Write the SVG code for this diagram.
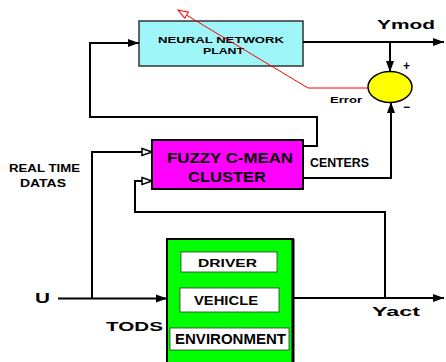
<svg xmlns="http://www.w3.org/2000/svg" width="446" height="362" viewBox="0 0 446 362">
<style>
  .t{font-family:"Liberation Sans",Arial,sans-serif;font-weight:bold;fill:#000}
  .w{fill:none;stroke:#000;stroke-width:2}
</style>
<defs>
  <marker id="af" markerUnits="userSpaceOnUse" markerWidth="12" markerHeight="10" refX="11" refY="5" orient="auto">
    <path d="M0,1 L11,5 L0,9 Z" fill="#000"/>
  </marker>
  <marker id="ao" markerUnits="userSpaceOnUse" markerWidth="12" markerHeight="10" refX="11" refY="5" orient="auto">
    <path d="M1,1.5 L11,5 L1,8.5 Z" fill="#fff" stroke="#000" stroke-width="1.5"/>
  </marker>
  <marker id="ar" markerUnits="userSpaceOnUse" markerWidth="12" markerHeight="10" refX="11" refY="5" orient="auto">
    <path d="M1,1.5 L11,5 L1,8.5 Z" fill="#fff" stroke="#f00" stroke-width="1"/>
  </marker>
</defs>
<rect width="446" height="362" fill="#fff"/>
<g id="nn-plant">
  <rect x="139" y="21" width="164" height="45" fill="#9ef6f8" stroke="#333" stroke-width="1.5"/>
  <text class="t" x="158" y="43" font-size="9.5" textLength="126" lengthAdjust="spacingAndGlyphs">NEURAL NETWORK</text>
  <text class="t" x="203" y="54" font-size="9.5" textLength="41" lengthAdjust="spacingAndGlyphs">PLANT</text>
</g>
<g id="sum">
  <ellipse cx="390" cy="87" rx="22" ry="15.5" fill="#ffff00" stroke="#000" stroke-width="1.5"/>
  <text class="t" x="403" y="70" font-size="12">+</text>
  <text class="t" x="403" y="111" font-size="12">−</text>
</g>
<g id="fcm">
  <rect x="152" y="140" width="151" height="49" fill="#ff00ff" stroke="#000" stroke-width="2"/>
  <text class="t" x="167" y="163" font-size="14" textLength="126" lengthAdjust="spacingAndGlyphs">FUZZY C-MEAN</text>
  <text class="t" x="188" y="182" font-size="14" textLength="78" lengthAdjust="spacingAndGlyphs">CLUSTER</text>
</g>
<g id="tods">
  <rect x="167" y="239" width="126" height="126" fill="#00ff00" stroke="#000" stroke-width="2"/>
  <line x1="293" y1="239" x2="293" y2="362" stroke="#000" stroke-width="3"/>
  <rect x="181" y="252" width="96" height="20" fill="#fff" stroke="#333" stroke-width="0.8"/>
  <text class="t" x="198" y="267" font-size="10" textLength="59" lengthAdjust="spacingAndGlyphs">DRIVER</text>
  <rect x="180" y="288" width="99" height="24" fill="#fff" stroke="#333" stroke-width="0.8"/>
  <text class="t" x="194" y="305" font-size="13" textLength="64" lengthAdjust="spacingAndGlyphs">VEHICLE</text>
  <rect x="170" y="328" width="119" height="22" fill="#fff" stroke="#333" stroke-width="0.8"/>
  <text class="t" x="175" y="344" font-size="14" textLength="111" lengthAdjust="spacingAndGlyphs">ENVIRONMENT</text>
</g>
<g id="labels">
  <text class="t" x="377" y="29" font-size="13" textLength="58" lengthAdjust="spacingAndGlyphs">Ymod</text>
  <text class="t" x="330" y="103" font-size="9" textLength="32" lengthAdjust="spacingAndGlyphs">Error</text>
  <text class="t" x="310" y="167" font-size="12" textLength="59" lengthAdjust="spacingAndGlyphs">CENTERS</text>
  <text class="t" x="9" y="172" font-size="11" textLength="71" lengthAdjust="spacingAndGlyphs">REAL TIME</text>
  <text class="t" x="20" y="187" font-size="11" textLength="46" lengthAdjust="spacingAndGlyphs">DATAS</text>
  <text class="t" x="35" y="303" font-size="14" textLength="15" lengthAdjust="spacingAndGlyphs">U</text>
  <text class="t" x="106" y="331" font-size="13" textLength="57" lengthAdjust="spacingAndGlyphs">TODS</text>
  <text class="t" x="372" y="316" font-size="12" textLength="48" lengthAdjust="spacingAndGlyphs">Yact</text>
</g>
<g id="connectors">
  <path class="w" d="M303,42 H444" marker-end="url(#af)"/>
  <path class="w" d="M390,42 V72" stroke-width="3" marker-end="url(#af)"/>
  <path class="w" d="M303,146 H317 V117 H90 V43 H139" marker-end="url(#af)"/>
  <path class="w" d="M303,178 H391 V102" marker-end="url(#af)"/>
  <path class="w" d="M92,298 V152 H152" marker-end="url(#ao)"/>
  <path class="w" d="M385,298 V212 H135 V181 H152" marker-end="url(#ao)"/>
  <path class="w" d="M58,298.5 H167" marker-end="url(#af)"/>
  <path class="w" d="M293,298 H444" marker-end="url(#af)"/>
  <path d="M368,88 H308 L178,10" fill="none" stroke="#f00" stroke-width="1" marker-end="url(#ar)"/>
</g>
</svg>
